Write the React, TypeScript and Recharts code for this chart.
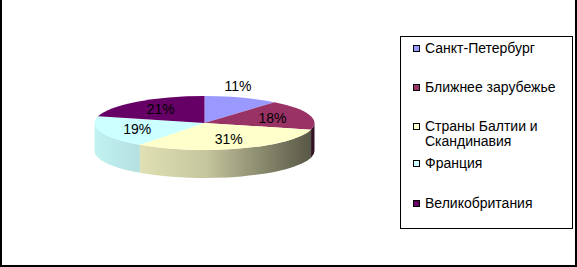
import React from "react";
import { Legend, Pie, PieChart } from "recharts";

const REGIONS = [
  "Санкт-Петербург",
  "Ближнее зарубежье",
  "Страны Балтии и Скандинавия",
  "Франция",
  "Великобритания",
];

const SHARES = [11, 18, 31, 19, 21];

const COLORS = ["#9999FF", "#993366", "#FFFFCC", "#CCFFFF", "#660066"];

const data = REGIONS.map((name, i) => ({
  name,
  value: SHARES[i],
  fill: COLORS[i],
}));

const FONT = "Arial, 'Liberation Sans', sans-serif";
const TILT = 0.245;
const DEPTH = 0.255;
const RAD = Math.PI / 180;

// darken a hex colour by factor k
function shade(hex: string, k: number) {
  const n = parseInt(hex.slice(1), 16);
  const r = Math.round(((n >> 16) & 255) * k);
  const g = Math.round(((n >> 8) & 255) * k);
  const b = Math.round((n & 255) * k);
  return `rgb(${r},${g},${b})`;
}

function pt(cx: number, cy: number, rx: number, ry: number, a: number, dy = 0) {
  return `${cx + rx * Math.cos(a * RAD)},${cy - ry * Math.sin(a * RAD) + dy}`;
}

function TopFace(props: any) {
  const { cx, cy, outerRadius, startAngle, endAngle, fill } = props;
  const rx = outerRadius;
  const ry = outerRadius * TILT;
  const large = Math.abs(startAngle - endAngle) > 180 ? 1 : 0;
  const d = `M${cx},${cy} L${pt(cx, cy, rx, ry, startAngle)} A${rx},${ry} 0 ${large} 1 ${pt(
    cx,
    cy,
    rx,
    ry,
    endAngle,
  )} Z`;
  return <path d={d} fill={fill} stroke="none" />;
}

function SideFace(props: any) {
  const { cx, cy, outerRadius, startAngle, endAngle, fill, index } = props;
  const rx = outerRadius;
  const ry = outerRadius * TILT;
  const depth = outerRadius * DEPTH;
  const hi = Math.min(startAngle, 0);
  const lo = Math.max(endAngle, -180);
  if (hi <= lo) return <g />;
  const id = `side-grad-${index}`;
  const d = `M${pt(cx, cy, rx, ry, hi)} A${rx},${ry} 0 0 1 ${pt(cx, cy, rx, ry, lo)} L${pt(
    cx,
    cy,
    rx,
    ry,
    lo,
    depth,
  )} A${rx},${ry} 0 0 0 ${pt(cx, cy, rx, ry, hi, depth)} Z`;
  return (
    <g>
      <defs>
        <linearGradient
          id={id}
          gradientUnits="userSpaceOnUse"
          x1={cx - rx}
          x2={cx + rx}
          y1={0}
          y2={0}
        >
          <stop offset="0" stopColor={shade(fill, 0.95)} />
          <stop offset="0.2" stopColor={shade(fill, 0.88)} />
          <stop offset="0.5" stopColor={shade(fill, 0.78)} />
          <stop offset="0.75" stopColor={shade(fill, 0.55)} />
          <stop offset="1" stopColor={shade(fill, 0.33)} />
        </linearGradient>
      </defs>
      <path d={d} fill={`url(#${id})`} stroke="none" />
    </g>
  );
}

function renderLabel(props: any) {
  const { cx, cy, outerRadius, startAngle, endAngle, percent } = props;
  const mid = (startAngle + endAngle) / 2;
  const rx = outerRadius;
  const ry = outerRadius * TILT;
  let x: number;
  let y: number;
  if (percent < 0.15) {
    x = cx + rx * 0.9 * Math.cos(mid * RAD);
    y = cy - ry * Math.sin(mid * RAD) - 12;
  } else {
    x = cx + rx * 0.65 * Math.cos(mid * RAD);
    y = cy - ry * 0.65 * Math.sin(mid * RAD);
  }
  return (
    <text
      x={x}
      y={y}
      textAnchor="middle"
      dominantBaseline="central"
      fontFamily={FONT}
      fontSize={14}
      fill="#000"
    >
      {`${Math.round(percent * 100)}%`}
    </text>
  );
}

const GAPS = [24, 24, 7, 25, 0];

function LegendBox(props: any) {
  const items = (props.payload || [])
    .filter((p: any) => p.type !== "none")
    .sort((a: any, b: any) => REGIONS.indexOf(a.value) - REGIONS.indexOf(b.value));
  return (
    <div
      style={{
        boxSizing: "border-box",
        width: 173,
        height: 193,
        border: "1px solid #000",
        background: "#fff",
        paddingTop: 4,
        paddingLeft: 12,
        fontFamily: FONT,
        fontSize: 14,
        lineHeight: "15px",
        color: "#000",
        textAlign: "left",
      }}
    >
      {items.map((item: any, i: number) => (
        <div key={item.value} style={{ display: "flex", marginBottom: GAPS[i] }}>
          <span
            style={{
              boxSizing: "border-box",
              width: 7,
              height: 7,
              marginTop: 4,
              marginRight: 5,
              flex: "none",
              border: "1px solid #000",
              background: item.color,
            }}
          />
          <span style={{ width: 145 }}>{item.value}</span>
        </div>
      ))}
    </div>
  );
}

export default function App() {
  return (
    <div
      style={{
        position: "absolute",
        left: 0,
        top: 0,
        width: 577,
        height: 267,
        boxSizing: "border-box",
        borderLeft: "2px solid #000",
        borderRight: "2px solid #000",
        borderBottom: "2px solid #000",
        background: "#fff",
      }}
    >
      <div style={{ position: "absolute", left: -2, top: 0 }}>
        <PieChart width={577} height={267}>
          <Pie
            data={data}
            dataKey="value"
            nameKey="name"
            cx={199.5}
            cy={118}
            outerRadius={110}
            startAngle={90}
            endAngle={-270}
            stroke="none"
            legendType="none"
            shape={SideFace}
            isAnimationActive={false}
          />
          <Pie
            data={data}
            dataKey="value"
            nameKey="name"
            cx={199.5}
            cy={118}
            outerRadius={110}
            startAngle={90}
            endAngle={-270}
            stroke="none"
            legendType="square"
            shape={TopFace}
            label={renderLabel}
            labelLine={false}
            isAnimationActive={false}
          />
          <Legend
            content={LegendBox}
            wrapperStyle={{ position: "absolute", left: 400, top: 36, width: 173, height: 193 }}
          />
        </PieChart>
      </div>
    </div>
  );
}
